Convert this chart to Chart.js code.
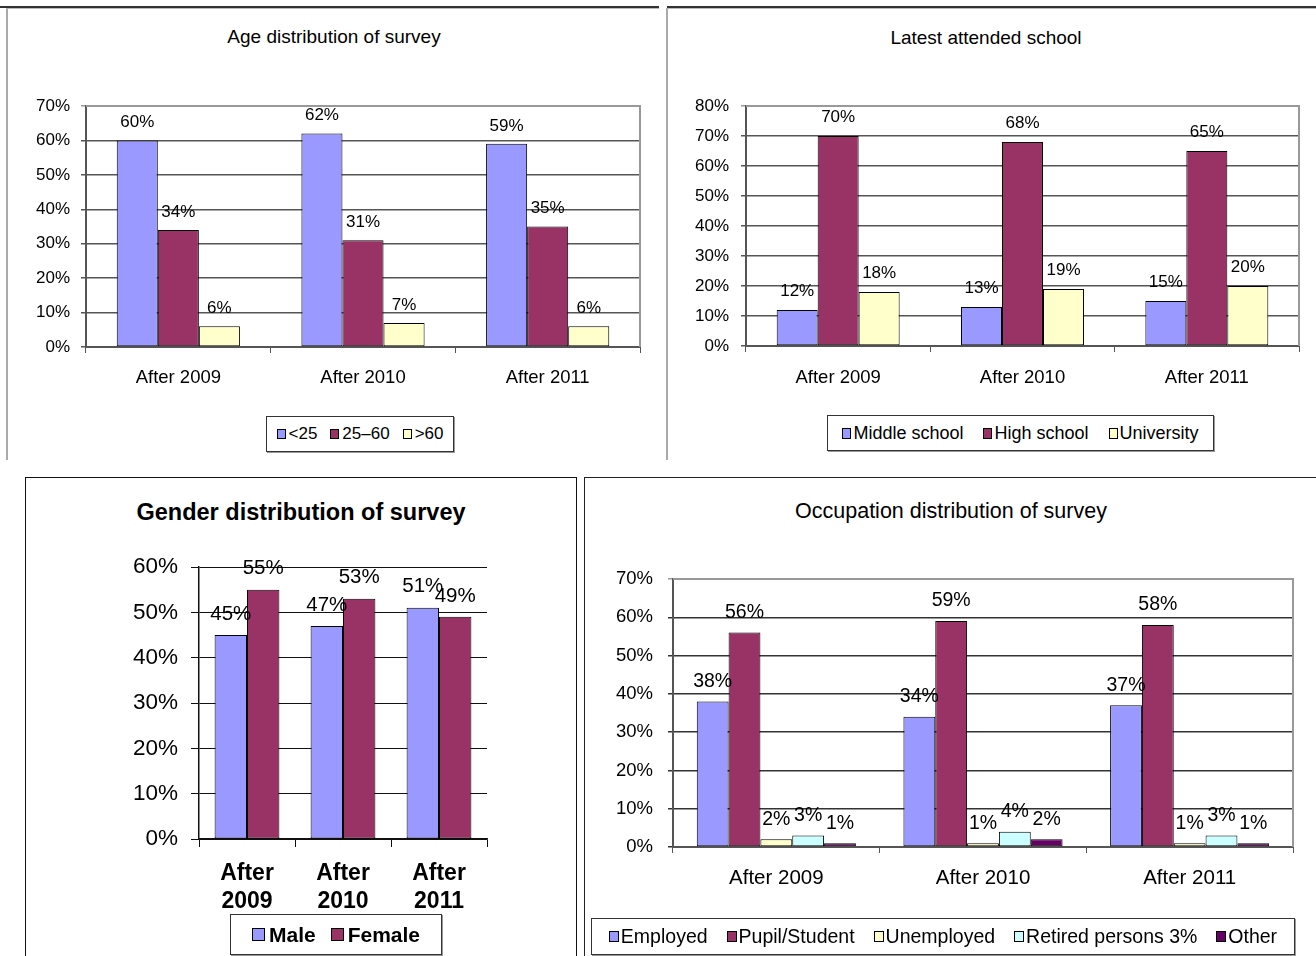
<!DOCTYPE html>
<html>
<head>
<meta charset="utf-8">
<script src="https://cdn.jsdelivr.net/npm/chart.js@4.4.1/dist/chart.umd.min.js"></script>
<style>
    body { margin: 0; width: 1316px; height: 956px; background: #fff; position: relative; overflow: hidden; font-family: "Liberation Sans", Arial, sans-serif; color: #000; }
    canvas { position: absolute; }
    .line { position: absolute; }
    .box { position: absolute; box-sizing: border-box; }
    .title { position: absolute; text-align: center; white-space: nowrap; }
    .legend { position: absolute; box-sizing: border-box; border: 1px solid #333; box-shadow: 1px 1px 0 #999; background: #fff; display: flex; align-items: center; justify-content: center; }
    .legend .item { display: flex; align-items: center; white-space: nowrap; }
    .legend i { display: inline-block; box-sizing: border-box; border: 1px solid #000; }
</style>
</head>
<body>
<!-- frames -->
<div class="line" style="left:0;top:6px;width:659px;height:2px;background:#333"></div>
<div class="line" style="left:667px;top:6px;width:649px;height:2px;background:#333"></div>
<div class="box" style="left:6px;top:8px;width:653px;height:452px;border-left:2px solid #aaa;border-top:1px solid #bbb"></div>
<div class="box" style="left:666px;top:8px;width:650px;height:452px;border-left:2px solid #aaa;border-top:1px solid #bbb"></div>
<div class="box" style="left:25px;top:477px;width:552px;height:490px;border:1px solid #111"></div>
<div class="box" style="left:584px;top:477px;width:740px;height:490px;border:1px solid #222"></div>

<div class="title" id="t1" style="left:134px;width:400px;top:26px;line-height:22px;font-size:19px">Age distribution of survey</div>
<div class="title" id="t2" style="left:786px;width:400px;top:27px;line-height:22px;font-size:19px">Latest attended school</div>
<div class="title" id="t3" style="left:101px;width:400px;top:498px;line-height:28px;font-size:23.5px;font-weight:bold">Gender distribution of survey</div>
<div class="title" id="t4" style="left:751px;width:400px;top:498px;line-height:26px;font-size:21.5px">Occupation distribution of survey</div>

<canvas id="ageChart"></canvas>
<canvas id="schoolChart"></canvas>
<canvas id="genderChart"></canvas>
<canvas id="occupationChart"></canvas>

<div class="legend" id="ageLegend" style="left:266px;top:416px;width:188px;height:36px;font-size:17px"></div>
<div class="legend" id="schoolLegend" style="left:827px;top:415px;width:387px;height:36px;font-size:18px"></div>
<div class="legend" id="genderLegend" style="left:230px;top:914px;width:212px;height:41px;font-size:21px;font-weight:bold"></div>
<div class="legend" id="occupationLegend" style="left:591px;top:918px;width:704px;height:37px;font-size:19.5px"></div>

<script>
// Data
const years = ['After 2009', 'After 2010', 'After 2011'];

const ageGroups = ['<25', '25–60', '>60'];
const ageUnder25 = [60, 62, 59];
const age25to60 = [34, 31, 35];
const ageOver60 = [6, 7, 6];
const ageTicks = [0, 10, 20, 30, 40, 50, 60, 70];

const schoolLevels = ['Middle school', 'High school', 'University'];
const middleSchool = [12, 13, 15];
const highSchool = [70, 68, 65];
const university = [18, 19, 20];
const schoolTicks = [0, 10, 20, 30, 40, 50, 60, 70, 80];

const genders = ['Male', 'Female'];
const male = [45, 47, 51];
const female = [55, 53, 49];
const genderTicks = [0, 10, 20, 30, 40, 50, 60];

const occupations = ['Employed', 'Pupil/Student', 'Unemployed', 'Retired persons 3%', 'Other'];
const employed = [38, 34, 37];
const pupilStudent = [56, 59, 58];
const unemployed = [2, 1, 1];
const retired = [3, 4, 3];
const otherJob = [1, 2, 1];
const occupationTicks = [0, 10, 20, 30, 40, 50, 60, 70];

const BLUE = '#9999FF', MAROON = '#993366', CREAM = '#FFFFCC', CYAN = '#CCFFFF', PURPLE = '#660066';

Chart.defaults.font.family = '"Liberation Sans", Arial, sans-serif';
Chart.defaults.color = '#000';

// value labels above the bars
const valueLabels = {
    id: 'valueLabels',
    afterDatasetsDraw(chart, args, opts) {
        const ctx = chart.ctx;
        ctx.save();
        ctx.font = opts.font;
        ctx.fillStyle = '#000';
        ctx.textAlign = 'center';
        ctx.textBaseline = 'middle';
        chart.data.datasets.forEach((ds, i) => {
            chart.getDatasetMeta(i).data.forEach((bar, j) => {
                ctx.fillText(ds.data[j] + '%', bar.x, bar.y - opts.offset);
            });
        });
        ctx.restore();
    }
};

// top/right border of the plot area
const plotFrame = {
    id: 'plotFrame',
    beforeDatasetsDraw(chart, args, opts) {
        if (!opts.color) return;
        const { left, right, top, bottom } = chart.chartArea;
        const ctx = chart.ctx;
        ctx.save();
        ctx.strokeStyle = opts.color;
        ctx.lineWidth = opts.width;
        ctx.beginPath();
        ctx.moveTo(left, top);
        ctx.lineTo(right, top);
        ctx.lineTo(right, bottom);
        ctx.stroke();
        ctx.restore();
    }
};

function barChart(id, box, plot, labels, names, series, colors, ticks, st) {
    const canvas = document.getElementById(id);
    canvas.style.left = box.x + 'px';
    canvas.style.top = box.y + 'px';
    canvas.width = box.w;
    canvas.height = box.h;
    canvas.style.width = box.w + 'px';
    canvas.style.height = box.h + 'px';
    const maxTick = ticks[ticks.length - 1];

    return new Chart(canvas, {
        type: 'bar',
        data: {
            labels: labels,
            datasets: names.map((name, i) => ({
                label: name,
                data: series[i],
                backgroundColor: colors[i],
                borderColor: '#000',
                borderWidth: 1,
                borderSkipped: false,
                categoryPercentage: st.group,
                barPercentage: 1
            }))
        },
        options: {
            responsive: false,
            animation: false,
            events: [],
            layout: {
                padding: { left: 0, top: plot.top - box.y, right: box.x + box.w - plot.right, bottom: 0 }
            },
            plugins: {
                legend: { display: false },
                tooltip: { enabled: false },
                valueLabels: { font: st.labelFont, offset: st.labelOffset },
                plotFrame: { color: st.frame, width: 2 }
            },
            scales: {
                x: {
                    grid: { drawOnChartArea: false, drawTicks: true, tickLength: st.xTick, color: st.axis, offset: true, lineWidth: 1 },
                    border: { color: st.axis, width: st.axisWidth },
                    ticks: { font: st.catFont, color: '#000', padding: st.catPad, maxRotation: 0, autoSkip: false },
                    afterFit(s) { s.height = box.y + box.h - plot.bottom; }
                },
                y: {
                    min: ticks[0],
                    max: maxTick,
                    ticks: { stepSize: 10, callback: v => v + '%', font: st.tickFont, color: '#000', padding: st.yPad },
                    grid: {
                        color: c => (c.tick && c.tick.value === maxTick && st.frame) ? st.frame : st.grid,
                        lineWidth: st.gridWidth,
                        tickLength: st.yTick
                    },
                    border: { color: st.axis, width: st.axisWidth },
                    afterFit(s) {
                        s.width = plot.left - box.x;
                        s.paddingTop = 0;
                        s.paddingBottom = 0;
                    }
                }
            }
        },
        plugins: [valueLabels, plotFrame]
    });
}

function fillLegend(id, names, colors, sq, gap, itemGap) {
    const el = document.getElementById(id);
    el.style.gap = itemGap + 'px';
    el.innerHTML = names.map((n, i) =>
        `<span class="item"><i style="width:${sq[0]}px;height:${sq[1]}px;background:${colors[i]};margin-right:${gap}px"></i>${n}</span>`
    ).join('');
}

const excelStyle = {
    frame: '#999', grid: '#555', gridWidth: 1.5, axis: '#555', axisWidth: 2,
    xTick: 6, yTick: 5
};

barChart('ageChart',
    { x: 10, y: 90, w: 645, h: 320 },
    { left: 86, right: 640, top: 106, bottom: 347 },
    years, ageGroups, [ageUnder25, age25to60, ageOver60], [BLUE, MAROON, CREAM], ageTicks,
    Object.assign({}, excelStyle, {
        group: 0.667, labelFont: '17px "Liberation Sans", Arial, sans-serif', labelOffset: 18,
        catFont: { size: 18.5 }, catPad: 14, tickFont: { size: 17 }, yPad: 11
    }));

barChart('schoolChart',
    { x: 672, y: 90, w: 640, h: 320 },
    { left: 746, right: 1299, top: 106, bottom: 346 },
    years, schoolLevels, [middleSchool, highSchool, university], [BLUE, MAROON, CREAM], schoolTicks,
    Object.assign({}, excelStyle, {
        group: 0.667, labelFont: '17px "Liberation Sans", Arial, sans-serif', labelOffset: 19,
        catFont: { size: 18.5 }, catPad: 15, tickFont: { size: 17 }, yPad: 12
    }));

barChart('genderChart',
    { x: 30, y: 545, w: 540, h: 370 },
    { left: 199, right: 487, top: 567, bottom: 839 },
    years.map(y => y.split(' ')), genders, [male, female], [BLUE, MAROON], genderTicks,
    {
        frame: null, grid: '#111', gridWidth: 1, axis: '#111', axisWidth: 1.5, xTick: 8, yTick: 8,
        group: 0.675, labelFont: '20.5px "Liberation Sans", Arial, sans-serif', labelOffset: 21,
        catFont: { size: 23, weight: 'bold', lineHeight: 1.2 }, catPad: 13,
        tickFont: { size: 22.5 }, yPad: 13
    });

barChart('occupationChart',
    { x: 590, y: 560, w: 720, h: 345 },
    { left: 673, right: 1293, top: 579, bottom: 847 },
    years, occupations, [employed, pupilStudent, unemployed, retired, otherJob],
    [BLUE, MAROON, CREAM, CYAN, PURPLE], occupationTicks,
    Object.assign({}, excelStyle, {
        grid: '#333',
        group: 0.77, labelFont: '19.5px "Liberation Sans", Arial, sans-serif', labelOffset: 20,
        catFont: { size: 20.5 }, catPad: 13, tickFont: { size: 18.5 }, yPad: 15
    }));

fillLegend('ageLegend', ageGroups, [BLUE, MAROON, CREAM], [9, 10], 3, 13);
fillLegend('schoolLegend', schoolLevels, [BLUE, MAROON, CREAM], [9, 11], 2, 20);
fillLegend('genderLegend', genders, [BLUE, MAROON], [13, 13], 4, 15);
fillLegend('occupationLegend', occupations, [BLUE, MAROON, CREAM, CYAN, PURPLE], [10, 11], 2, 19);
</script>
</body>
</html>
